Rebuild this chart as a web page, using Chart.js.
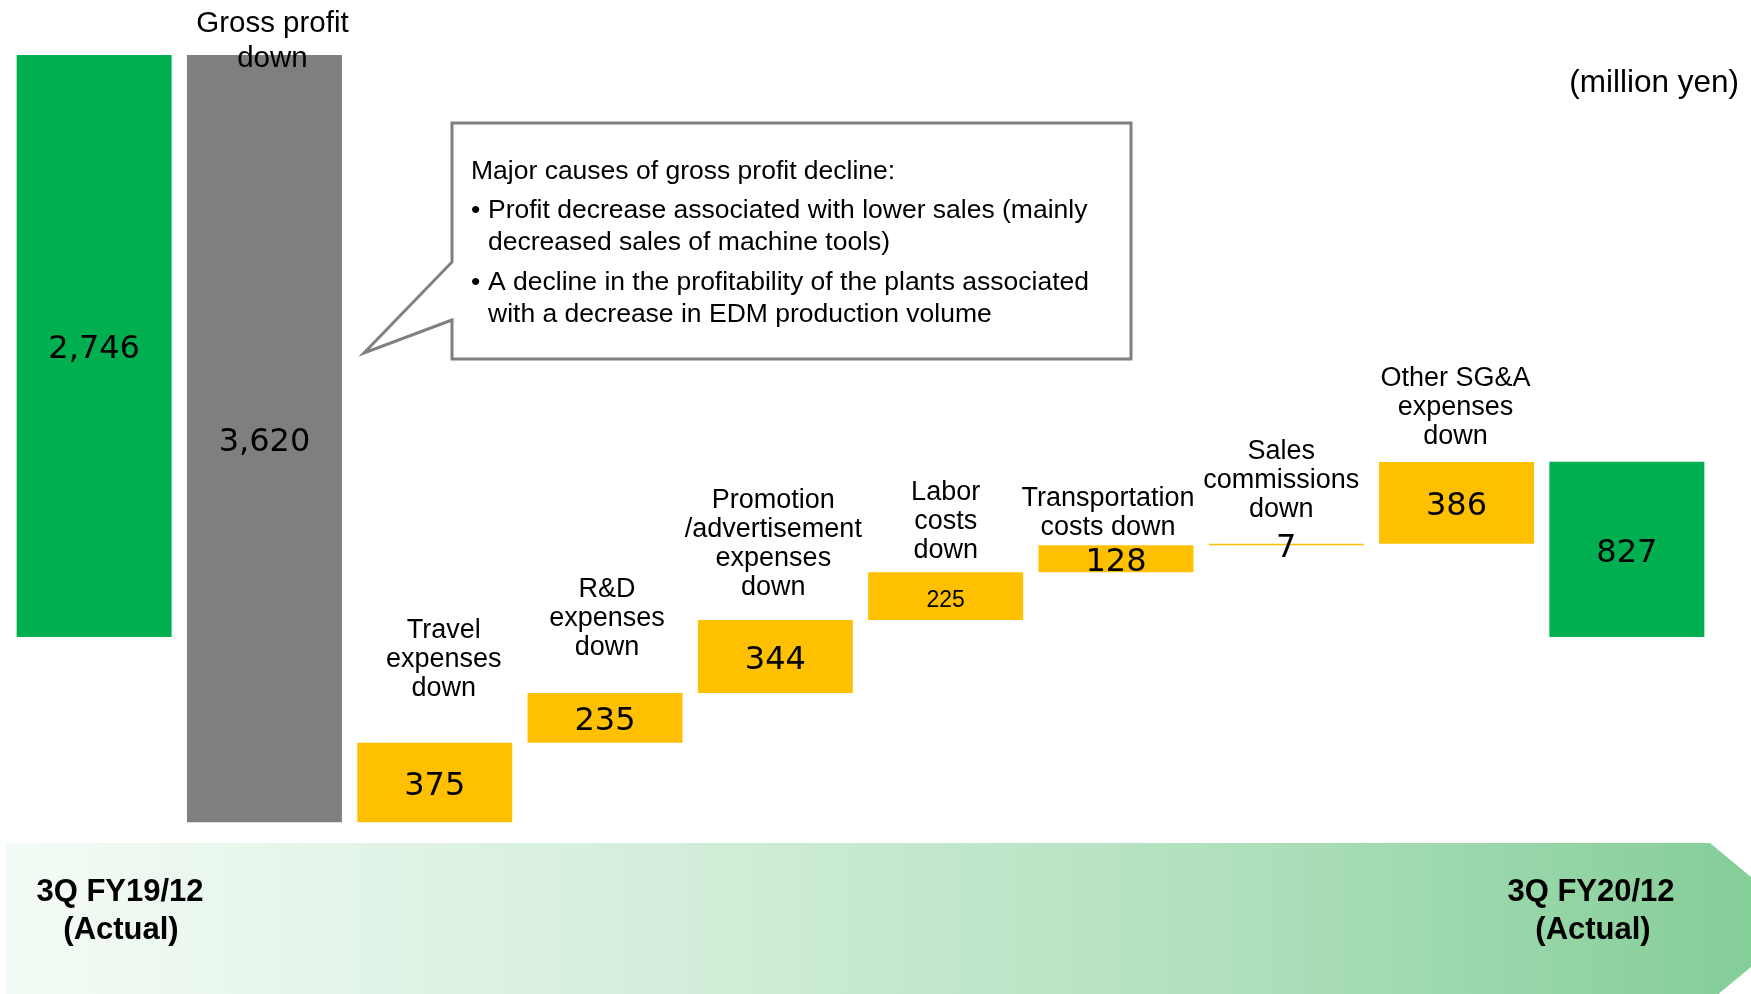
<!DOCTYPE html>
<html>
<head>
<meta charset="utf-8">
<title>Operating profit bridge</title>
<script src="https://cdn.jsdelivr.net/npm/chart.js@4/dist/chart.umd.min.js"></script>
<style>
  html, body { margin: 0; padding: 0; background: #ffffff; }
  #wrap { position: relative; width: 1751px; height: 994px; }
</style>
</head>
<body>
<div id="wrap"><canvas id="bridgeChart" width="1751" height="994"></canvas></div>
<script>
// Chart data (million yen)
const categories = [
  "3Q FY19/12 (Actual)",
  "Gross profit down",
  "Travel expenses down",
  "R&D expenses down",
  "Promotion/advertisement expenses down",
  "Labor costs down",
  "Transportation costs down",
  "Sales commissions down",
  "Other SG&A expenses down",
  "3Q FY20/12 (Actual)"
];
const categoryLines = [
  [],
  ["Gross profit", "down"],
  ["Travel", "expenses", "down"],
  ["R&D", "expenses", "down"],
  ["Promotion", "/advertisement", "expenses", "down"],
  ["Labor", "costs", "down"],
  ["Transportation", "costs down"],
  ["Sales", "commissions", "down"],
  ["Other SG&A", "expenses", "down"],
  []
];
const startProfit = 2746;
const grossProfitDown = 3620;
const sgaDecreases = [375, 235, 344, 225, 128, 7, 386];
const endProfit = 827;

const unitLabel = "(million yen)";
const periodLabels = [["3Q FY19/12", "(Actual)"], ["3Q FY20/12", "(Actual)"]];
const calloutTitle = "Major causes of gross profit decline:";
const calloutBullets = [
  ["Profit decrease associated with lower sales (mainly", "decreased sales of machine tools)"],
  ["A decline in the profitability of the plants associated", "with a decrease in EDM production volume"]
];

// Build the floating bars of the waterfall
const values = [startProfit, grossProfitDown, ...sgaDecreases, endProfit];
const floats = [[0, startProfit]];
let level = startProfit;
floats.push([level - grossProfitDown, level]);
level -= grossProfitDown;
sgaDecreases.forEach((d) => {
  floats.push([level, level + d]);
  level += d;
});
floats.push([0, endProfit]);

const GREEN = "#00b050";
const GREY = "#7f7f7f";
const ORANGE = "#ffc000";
const barColors = values.map((v, i) =>
  i === 0 || i === values.length - 1 ? GREEN : i === 1 ? GREY : ORANGE
);

// where the category text sits relative to each bar (px)
const labelLift = [0, -4, 54, 45, 32, 22, 18, 34, 25, 0];
const labelShiftX = [0, 8, 9, 2, -2, 0, -8, -5, -1, 0];
const SANS = '"Liberation Sans", Arial, sans-serif';

const decorPlugin = {
  id: "decor",
  beforeDatasetsDraw(chart) {
    const ctx = chart.ctx;
    // bottom arrow band
    ctx.save();
    const grad = ctx.createLinearGradient(6, 0, 1751, 0);
    grad.addColorStop(0, "#f4fbf6");
    grad.addColorStop(0.35, "#d6efdd");
    grad.addColorStop(0.7, "#b0e0bd");
    grad.addColorStop(1, "#84ce98");
    ctx.beginPath();
    ctx.moveTo(6, 843);
    ctx.lineTo(1710, 843);
    ctx.lineTo(1805, 922);
    ctx.lineTo(1710, 1001);
    ctx.lineTo(6, 1001);
    ctx.closePath();
    ctx.fillStyle = grad;
    ctx.fill();

    ctx.fillStyle = "#000000";
    ctx.font = "bold 31px " + SANS;
    ctx.textAlign = "center";
    ctx.textBaseline = "middle";
    ctx.fillText(periodLabels[0][0], 120, 892);
    ctx.fillText(periodLabels[0][1], 121, 930);
    ctx.fillText(periodLabels[1][0], 1591, 892);
    ctx.fillText(periodLabels[1][1], 1593, 930);
    ctx.restore();
  },
  afterDatasetsDraw(chart) {
    const ctx = chart.ctx;
    const meta = chart.getDatasetMeta(0);
    ctx.save();
    ctx.fillStyle = "#000000";
    ctx.textAlign = "center";
    ctx.textBaseline = "middle";

    meta.data.forEach((bar, i) => {
      const top = Math.min(bar.y, bar.base);
      const mid = (bar.y + bar.base) / 2;

      // value inside the bar
      ctx.font = i === 5 ? "23px " + SANS : '32px "DejaVu Sans", sans-serif';
      ctx.fillText(values[i].toLocaleString("en-US"), bar.x, mid + 4);

      // category text above the bar
      const lines = categoryLines[i];
      if (!lines.length) return;
      const lh = i === 1 ? 35 : 29;
      ctx.font = (i === 1 ? "29.5px " : "27px ") + SANS;
      const lastY = top - labelLift[i];
      lines.forEach((t, k) => {
        ctx.fillText(t, bar.x + labelShiftX[i], lastY - (lines.length - 1 - k) * lh);
      });
    });

    // unit
    ctx.font = "31.5px " + SANS;
    ctx.textAlign = "right";
    ctx.fillText(unitLabel, 1739, 83);

    // callout box
    ctx.beginPath();
    ctx.moveTo(452, 123);
    ctx.lineTo(1131, 123);
    ctx.lineTo(1131, 359);
    ctx.lineTo(452, 359);
    ctx.lineTo(452, 320);
    ctx.lineTo(364, 353);
    ctx.lineTo(452, 262);
    ctx.closePath();
    ctx.fillStyle = "#ffffff";
    ctx.fill();
    ctx.lineWidth = 3;
    ctx.strokeStyle = "#808080";
    ctx.stroke();

    ctx.fillStyle = "#000000";
    ctx.font = "26.5px " + SANS;
    ctx.textAlign = "left";
    ctx.fillText(calloutTitle, 471, 172);
    const bulletRows = [[211, 243], [283, 315]];
    calloutBullets.forEach((rows, b) => {
      ctx.fillText("\u2022", 471, bulletRows[b][0]);
      rows.forEach((t, k) => ctx.fillText(t, 488, bulletRows[b][k]));
    });
    ctx.restore();
  }
};

new Chart(document.getElementById("bridgeChart"), {
  type: "bar",
  data: {
    labels: categories,
    datasets: [
      {
        data: floats,
        backgroundColor: barColors,
        borderWidth: 0,
        barPercentage: 0.91,
        categoryPercentage: 1
      }
    ]
  },
  options: {
    responsive: false,
    animation: false,
    devicePixelRatio: 1,
    layout: { padding: { left: 9, right: 39, top: 0, bottom: 0 } },
    scales: {
      x: { display: false },
      y: { display: false, min: -1684.4, max: 3005.5 }
    },
    plugins: {
      legend: { display: false },
      tooltip: { enabled: false }
    }
  },
  plugins: [decorPlugin]
});
</script>
</body>
</html>
